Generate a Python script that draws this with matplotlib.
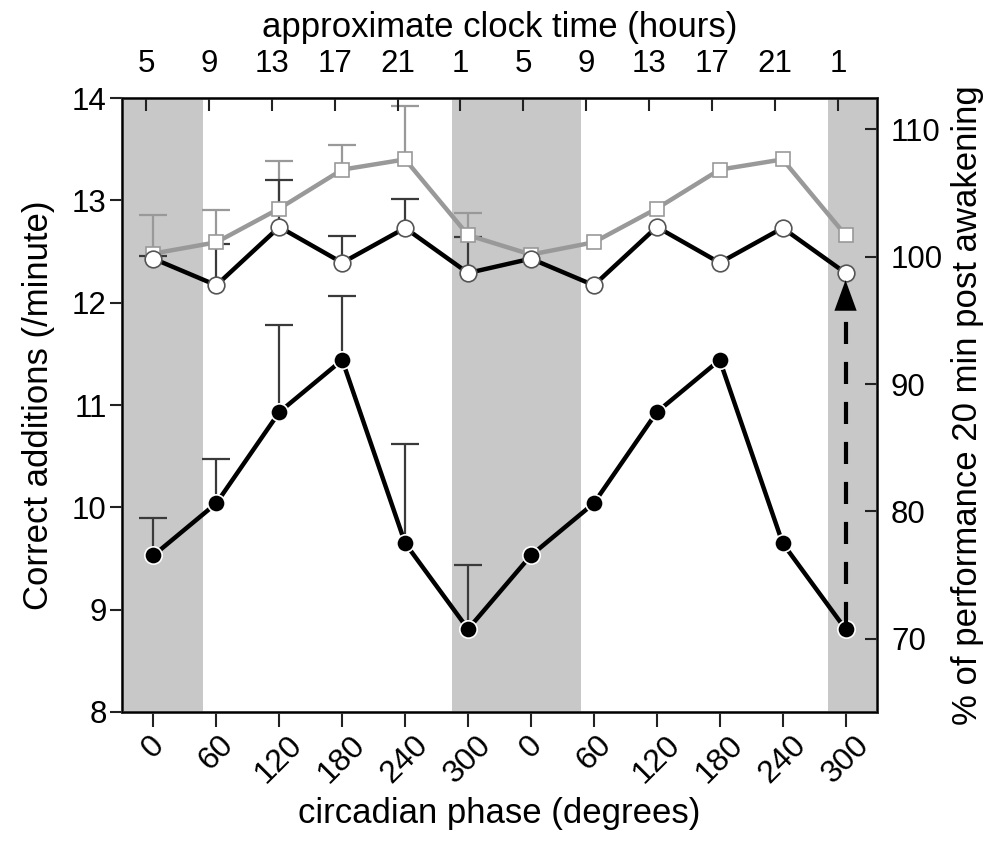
import matplotlib
matplotlib.use("Agg")
import matplotlib.pyplot as plt
import numpy as np

plt.rcParams['font.family'] = ['Liberation Sans', 'DejaVu Sans']

# ---- data ----
phase_labels = ['0', '60', '120', '180', '240', '300', '0', '60', '120', '180', '240', '300']
clock_labels = ['5', '9', '13', '17', '21', '1', '5', '9', '13', '17', '21', '1']

# filled circles: performance (correct additions / minute)
filled_vals = [9.53, 10.04, 10.93, 11.44, 9.65, 8.81, 9.53, 10.04, 10.93, 11.44, 9.65, 8.81]
filled_err_top = [9.90, 10.47, 11.78, 12.07, 10.62, 9.44]

# open circles: 20 min post awakening
open_vals = [12.43, 12.17, 12.74, 12.39, 12.73, 12.29, 12.43, 12.17, 12.74, 12.39, 12.73, 12.29]
open_err_top = [12.46, 12.57, 13.20, 12.65, 13.01, 12.64]

# open squares (grey)
square_vals = [12.48, 12.59, 12.92, 13.30, 13.40, 12.66, 12.47, 12.59, 12.92, 13.30, 13.40, 12.66]
square_err_top = [12.86, 12.91, 13.38, 13.54, 13.92, 12.88]

# shaded (sleep) intervals on phase-index axis
shade_spans = [(-0.5, 0.78), (4.74, 6.79), (10.72, 11.5)]

baseline = 12.45  # value corresponding to 100 %
right_ticks = [70, 80, 90, 100, 110]
left_ticks = [8, 9, 10, 11, 12, 13, 14]

# ---- figure ----
fig = plt.figure(figsize=(10, 8.42), dpi=100)
ax = fig.add_axes([0.122, 0.1544, 0.755, 0.7292])

x = np.arange(len(phase_labels))
xe = np.arange(len(filled_err_top))

for a, b in shade_spans:
    ax.axvspan(a, b, color='#c8c8c8', lw=0, zorder=0)

grey = '#999999'
dark = '#3a3a3a'


def up_err(xs, vals, tops, color, z):
    vals = np.asarray(vals[:len(tops)])
    tops = np.asarray(tops)
    cont = ax.errorbar(xs, vals, yerr=[np.zeros_like(vals), tops - vals], fmt='none',
                       ecolor=color, elinewidth=1.6, capsize=10, capthick=1.6, zorder=z)
    for cl in cont.lines[1]:
        if np.allclose(cl.get_ydata(), vals):
            cl.set_visible(False)


up_err(xe, square_vals, square_err_top, grey, 2)
up_err(xe, open_vals, open_err_top, dark, 2.5)
up_err(xe, filled_vals, filled_err_top, dark, 2.5)

ax.plot(x, square_vals, '-', color=grey, lw=3.2, marker='s', ms=10.5,
        mfc='white', mec=grey, mew=1.2, zorder=4)
ax.plot(x, open_vals, '-', color='black', lw=3.2, marker='o', ms=12,
        mfc='white', mec='#555555', mew=1.2, zorder=5)
ax.plot(x, filled_vals, '-', color='black', lw=3.2, marker='o', ms=12.5,
        mfc='black', mec='white', mew=1.2, zorder=5)

# dashed arrow from the last filled point up to the last open point
ax.plot([x[-1], x[-1]], [filled_vals[-1] + 0.05, open_vals[-1] - 0.28], color='black',
        lw=3, linestyle=(0, (5.3, 4.3)), zorder=6, solid_capstyle='butt', dash_capstyle='butt')
ax.annotate('', xy=(x[-1], open_vals[-1] - 0.07), xytext=(x[-1], open_vals[-1] - 0.33),
            arrowprops=dict(arrowstyle='-|>,head_length=1.1,head_width=0.4', color='black',
                            lw=0.01, mutation_scale=20, shrinkA=0, shrinkB=0), zorder=7)

ax.set_xlim(-0.5, 11.5)
ax.set_ylim(8, 14)
ax.set_yticks(left_ticks)
ax.set_xticks(x)
ax.set_xticklabels(phase_labels, rotation=45, ha='center', fontsize=23)
ax.tick_params(axis='y', labelsize=22.5, direction='out', length=9, width=1.5,
               colors='#222222', pad=2)
ax.tick_params(axis='x', direction='out', length=11, width=1.5, pad=2, colors='#222222')
ax.tick_params(labelcolor='black')
ax.set_ylabel('Correct additions (/minute)', fontsize=25, labelpad=12)
ax.set_xlabel('circadian phase (degrees)', fontsize=25, labelpad=6)

for s in ax.spines.values():
    s.set_linewidth(1.8)
    s.set_color('#333333')

# right axis: percentage
axr = ax.twinx()
axr.set_ylim(8 / baseline * 100, 14 / baseline * 100)
axr.set_yticks(right_ticks)
axr.tick_params(axis='y', labelsize=22.5, direction='in', length=9, width=1.5,
                colors='#222222', labelcolor='black', pad=10)
axr.set_ylabel('% of performance 20 min post awakening', fontsize=25, labelpad=6)
for s in axr.spines.values():
    s.set_linewidth(1.8)
    s.set_color('#333333')

# top axis: clock time
axt = ax.twiny()
axt.set_xlim(ax.get_xlim())
axt.set_xticks(x - 0.12)
axt.set_xticklabels(clock_labels, fontsize=22.5)
axt.tick_params(axis='x', direction='in', length=9, width=1.5, colors='#222222',
                labelcolor='black', pad=14)
axt.set_xlabel('approximate clock time (hours)', fontsize=25, labelpad=8)

fig.savefig('out.png', dpi=100)
